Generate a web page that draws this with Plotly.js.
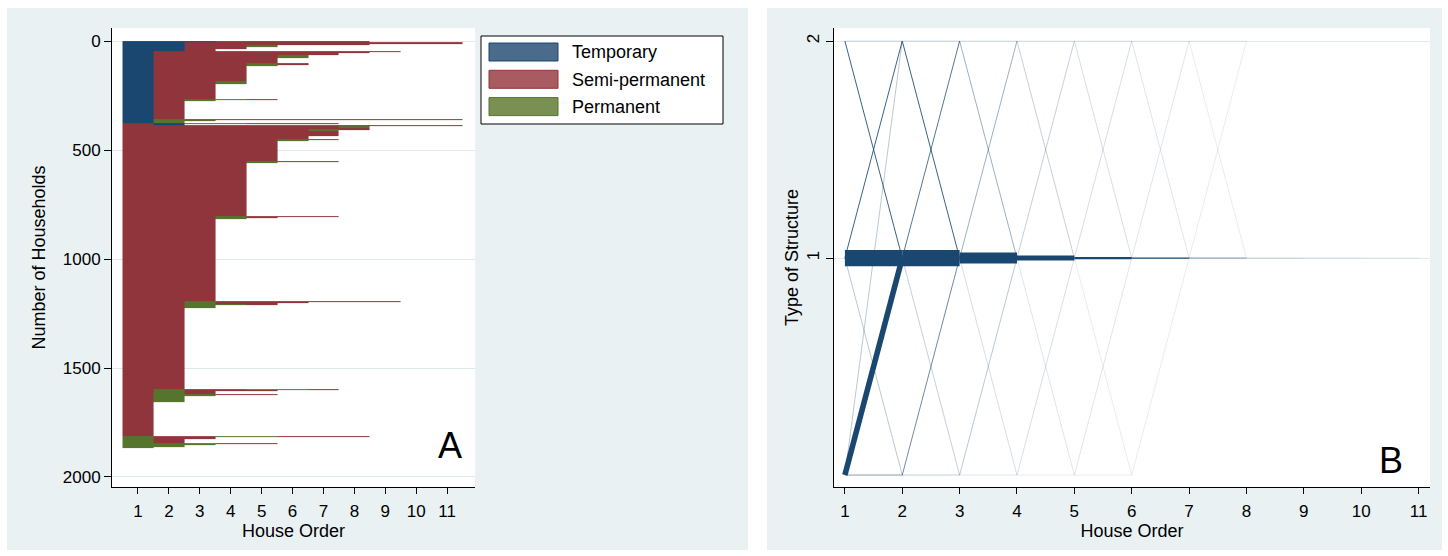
<!DOCTYPE html>
<html>
<head>
<meta charset="utf-8">
<script src="https://cdn.plot.ly/plotly-3.0.1.min.js"></script>
<style>
html,body{margin:0;padding:0;background:#ffffff;}
#chart{width:1448px;height:556px;}
</style>
</head>
<body>
<div id="chart"></div>
<script>
// ---------------- Panel A data: sequence index plot ----------------
const stateNames = ["Temporary", "Semi-permanent", "Permanent"];
const stateCodes = ["T", "S", "P"];
const houseOrder = [1, 2, 3, 4, 5, 6, 7, 8, 9, 10, 11];
const householdTicks = [0, 500, 1000, 1500, 2000];

// household sequences (house 1, house 2, ...) in plotted order, and number of households
const seqPatterns = [
  "TTTSSSSS", "TTSSSSSSSSS", "TTSSSSSS", "TTSSP", "TTSS", "TTS",
  "TSSSSSSSS", "TSSSSSSS", "TSSSSSS", "TSSSSP", "TSSSS", "TSSSPS", "TSSSP",
  "TSSS", "TSSP", "TSS", "TSPPS", "TSP", "TS", "TPSSSSSSSSS", "TPP", "TP",
  "STPPSSS", "ST",
  "SSSSSSSSSSS", "SSSSSSSP", "SSSSSSSS", "SSSSSSPS", "SSSSSSP", "SSSSSSS",
  "SSSSSS", "SSSSSPS", "SSSSSP", "SSSSS", "SSSSPSS", "SSSSPS", "SSSSP",
  "SSSS", "SSSPSSS", "SSSPS", "SSSP", "SSS",
  "SSPSSSSSS", "SSPSSS", "SSPSS", "SSPPS", "SSP", "SS",
  "SPSSPPS", "SPSSS", "SPS", "SPPSS", "SPP", "SP", "S",
  "PSSPPSSS", "PSS", "PS", "PPPSS", "PPP", "PP", "P"
];
const seqCounts = [
  5, 8, 5, 8, 11, 7,
  6, 5, 10, 15, 23, 7, 5,
  69, 11, 71, 4, 7, 82, 4, 6, 6,
  5, 6,
  6, 5, 7, 5, 5, 20,
  16, 4, 6, 90, 4, 3, 5,
  239, 5, 4, 8, 375,
  4, 5, 4, 6, 14, 372,
  4, 6, 10, 5, 6, 29, 154,
  4, 11, 16, 5, 6, 10, 3
];

// ---------------- Panel B data: transitions between house orders ----------------
const structureTicks = [1, 2];
// transition from house order transStep (state transFrom) to transStep+1 (state transTo)
const transStep  = [1,1,1,1,1,1,1,1, 2,2,2,2,2,2,2, 3,3,3,3,3,3,3, 4,4,4,4,4,4,4, 5,5,5,5,5,5,5, 6,6,6,6,6, 7,7,7,7, 8, 9, 10];
const transFrom  = [2,1,0,1,0,0,2,1, 2,1,1,0,0,2,1, 2,1,1,0,0,2,1, 2,1,1,0,0,2,1, 2,1,1,0,0,2,1, 2,1,0,2,1, 2,1,2,1, 1, 1, 1];
const transTo    = [1,2,2,0,1,0,2,1, 1,2,0,1,0,2,1, 1,2,0,1,0,2,1, 1,2,0,1,0,2,1, 1,2,0,1,0,2,1, 1,2,1,2,1, 1,2,2,1, 1, 1, 1];
const transCount = [18,18,7,7,300,12,4,960, 18,16,6,14,6,4,960, 10,10,4,7,3,3,640, 6,6,3,4,2,2,270, 4,4,2,3,2,2,95, 3,3,2,1,30, 2,2,1,12, 5, 3, 2];

// ---------------- styles ----------------
const stateColors  = ["#1a476f", "#90353b", "#55752f"];
const legendFill   = ["#4b6b8d", "#a85b60", "#7a9052"];
const legendLine   = ["#1a476f", "#90353b", "#55752f"];
const panelColor = "#e9f1f2";
const gridColor = "#dfe9eb";
const FONT = "Liberation Sans, Arial, Helvetica, sans-serif";
const W = 1448, H = 556;
const px = v => v / W;
const py = v => 1 - v / H;

// ---- build heatmap matrix for panel A ----
const zRows = [];
const yEdges = [0];
let cum = 0;
seqPatterns.forEach((pat, i) => {
  const row = houseOrder.map((h, j) => {
    const c = pat[j];
    return c === undefined ? null : stateCodes.indexOf(c);
  });
  zRows.push(row);
  cum += seqCounts[i];
  yEdges.push(cum);
});

const traces = [];
traces.push({
  type: "heatmap",
  x: houseOrder,
  y: yEdges,
  z: zRows,
  zmin: -0.5, zmax: 2.5,
  colorscale: [
    [0, stateColors[0]], [1/3, stateColors[0]],
    [1/3, stateColors[1]], [2/3, stateColors[1]],
    [2/3, stateColors[2]], [1, stateColors[2]]
  ],
  showscale: false,
  hoverinfo: "skip",
  xaxis: "x", yaxis: "y"
});

// ---- transition lines for panel B (thin first, thick on top) ----
const order = transCount.map((c, i) => i).sort((a, b) => transCount[a] - transCount[b]);
order.forEach(i => {
  const c = transCount[i];
  const alpha = Math.min(1, 0.05 + c / 22);
  const width = 0.7 + c / 62;
  traces.push({
    type: "scatter",
    mode: "lines",
    x: [transStep[i], transStep[i] + 1],
    y: [transFrom[i], transTo[i]],
    line: { color: "rgba(26,71,111," + alpha.toFixed(3) + ")", width: width },
    hoverinfo: "skip",
    showlegend: false,
    xaxis: "x2", yaxis: "y2"
  });
});

// ---- shapes: panel backgrounds, plot areas, legend ----
const shapes = [
  { type: "rect", xref: "paper", yref: "paper", x0: px(7), x1: px(748), y0: py(550), y1: py(8), fillcolor: panelColor, line: { width: 0 }, layer: "below" },
  { type: "rect", xref: "paper", yref: "paper", x0: px(767), x1: px(1442), y0: py(550), y1: py(8), fillcolor: panelColor, line: { width: 0 }, layer: "below" },
  { type: "rect", xref: "paper", yref: "paper", x0: px(112), x1: px(475), y0: py(487), y1: py(28), fillcolor: "#ffffff", line: { width: 0 }, layer: "below" },
  { type: "rect", xref: "paper", yref: "paper", x0: px(834), x1: px(1430), y0: py(487), y1: py(28), fillcolor: "#ffffff", line: { width: 0 }, layer: "below" },
  { type: "rect", xref: "paper", yref: "paper", x0: px(481), x1: px(723), y0: py(124), y1: py(36), fillcolor: "#ffffff", line: { color: "#000000", width: 1 }, layer: "above" }
];
const annotations = [];
stateNames.forEach((name, k) => {
  const top = 43 + k * 27.3;
  shapes.push({ type: "rect", xref: "paper", yref: "paper", x0: px(489), x1: px(558), y0: py(top + 18), y1: py(top),
    fillcolor: legendFill[k], line: { color: legendLine[k], width: 1 }, layer: "above" });
  annotations.push({ xref: "paper", yref: "paper", x: px(570), y: py(top + 9.5), xanchor: "left", yanchor: "middle",
    text: name, showarrow: false, font: { family: FONT, size: 18, color: "#000000" } });
});
annotations.push({ xref: "paper", yref: "paper", x: px(450), y: py(445), xanchor: "center", yanchor: "middle",
  text: "A", showarrow: false, font: { family: FONT, size: 36, color: "#000000" } });
annotations.push({ xref: "paper", yref: "paper", x: px(1391), y: py(460), xanchor: "center", yanchor: "middle",
  text: "B", showarrow: false, font: { family: FONT, size: 36, color: "#000000" } });

const axisCommon = {
  showline: true, linecolor: "#000000", linewidth: 1,
  ticks: "outside", ticklen: 6, tickwidth: 1, tickcolor: "#000000",
  tickfont: { family: FONT, size: 17, color: "#000000" },
  zeroline: false, fixedrange: true
};

const layout = {
  width: W, height: H,
  margin: { l: 0, r: 0, t: 0, b: 0, pad: 0 },
  paper_bgcolor: "#ffffff",
  plot_bgcolor: "#ffffff",
  showlegend: false,
  font: { family: FONT, color: "#000000" },
  shapes: shapes,
  annotations: annotations,
  xaxis: Object.assign({}, axisCommon, {
    domain: [px(112), px(475)], anchor: "y",
    range: [0.16, 11.9], tickmode: "array", tickvals: houseOrder, ticktext: houseOrder.map(String),
    showgrid: false, ticklabelstandoff: 3,
    title: { text: "House Order", font: { family: FONT, size: 18, color: "#000000" }, standoff: 3 }
  }),
  yaxis: Object.assign({}, axisCommon, {
    domain: [1 - 487 / H, 1 - 28 / H], anchor: "x",
    range: [2046, -60], tickmode: "array", tickvals: householdTicks, ticktext: householdTicks.map(String),
    ticklen: 7, showgrid: true, gridcolor: gridColor, gridwidth: 1,
    title: { text: "Number of Households", font: { family: FONT, size: 18, color: "#000000" }, standoff: 12 }
  }),
  xaxis2: Object.assign({}, axisCommon, {
    domain: [px(834), px(1430)], anchor: "y2",
    range: [0.81, 11.2], tickmode: "array", tickvals: houseOrder, ticktext: houseOrder.map(String),
    showgrid: false, ticklabelstandoff: 3,
    title: { text: "House Order", font: { family: FONT, size: 18, color: "#000000" }, standoff: 3 }
  }),
  yaxis2: Object.assign({}, axisCommon, {
    domain: [1 - 487 / H, 1 - 28 / H], anchor: "x2",
    range: [-0.055, 2.06], tickmode: "array", tickvals: structureTicks, ticktext: structureTicks.map(String),
    tickangle: -90, ticklen: 7, showgrid: true, gridcolor: gridColor, gridwidth: 1,
    title: { text: "Type of Structure", font: { family: FONT, size: 18, color: "#000000" }, standoff: 0 }
  })
};

Plotly.newPlot("chart", traces, layout, { displayModeBar: false, staticPlot: true });
</script>
</body>
</html>
